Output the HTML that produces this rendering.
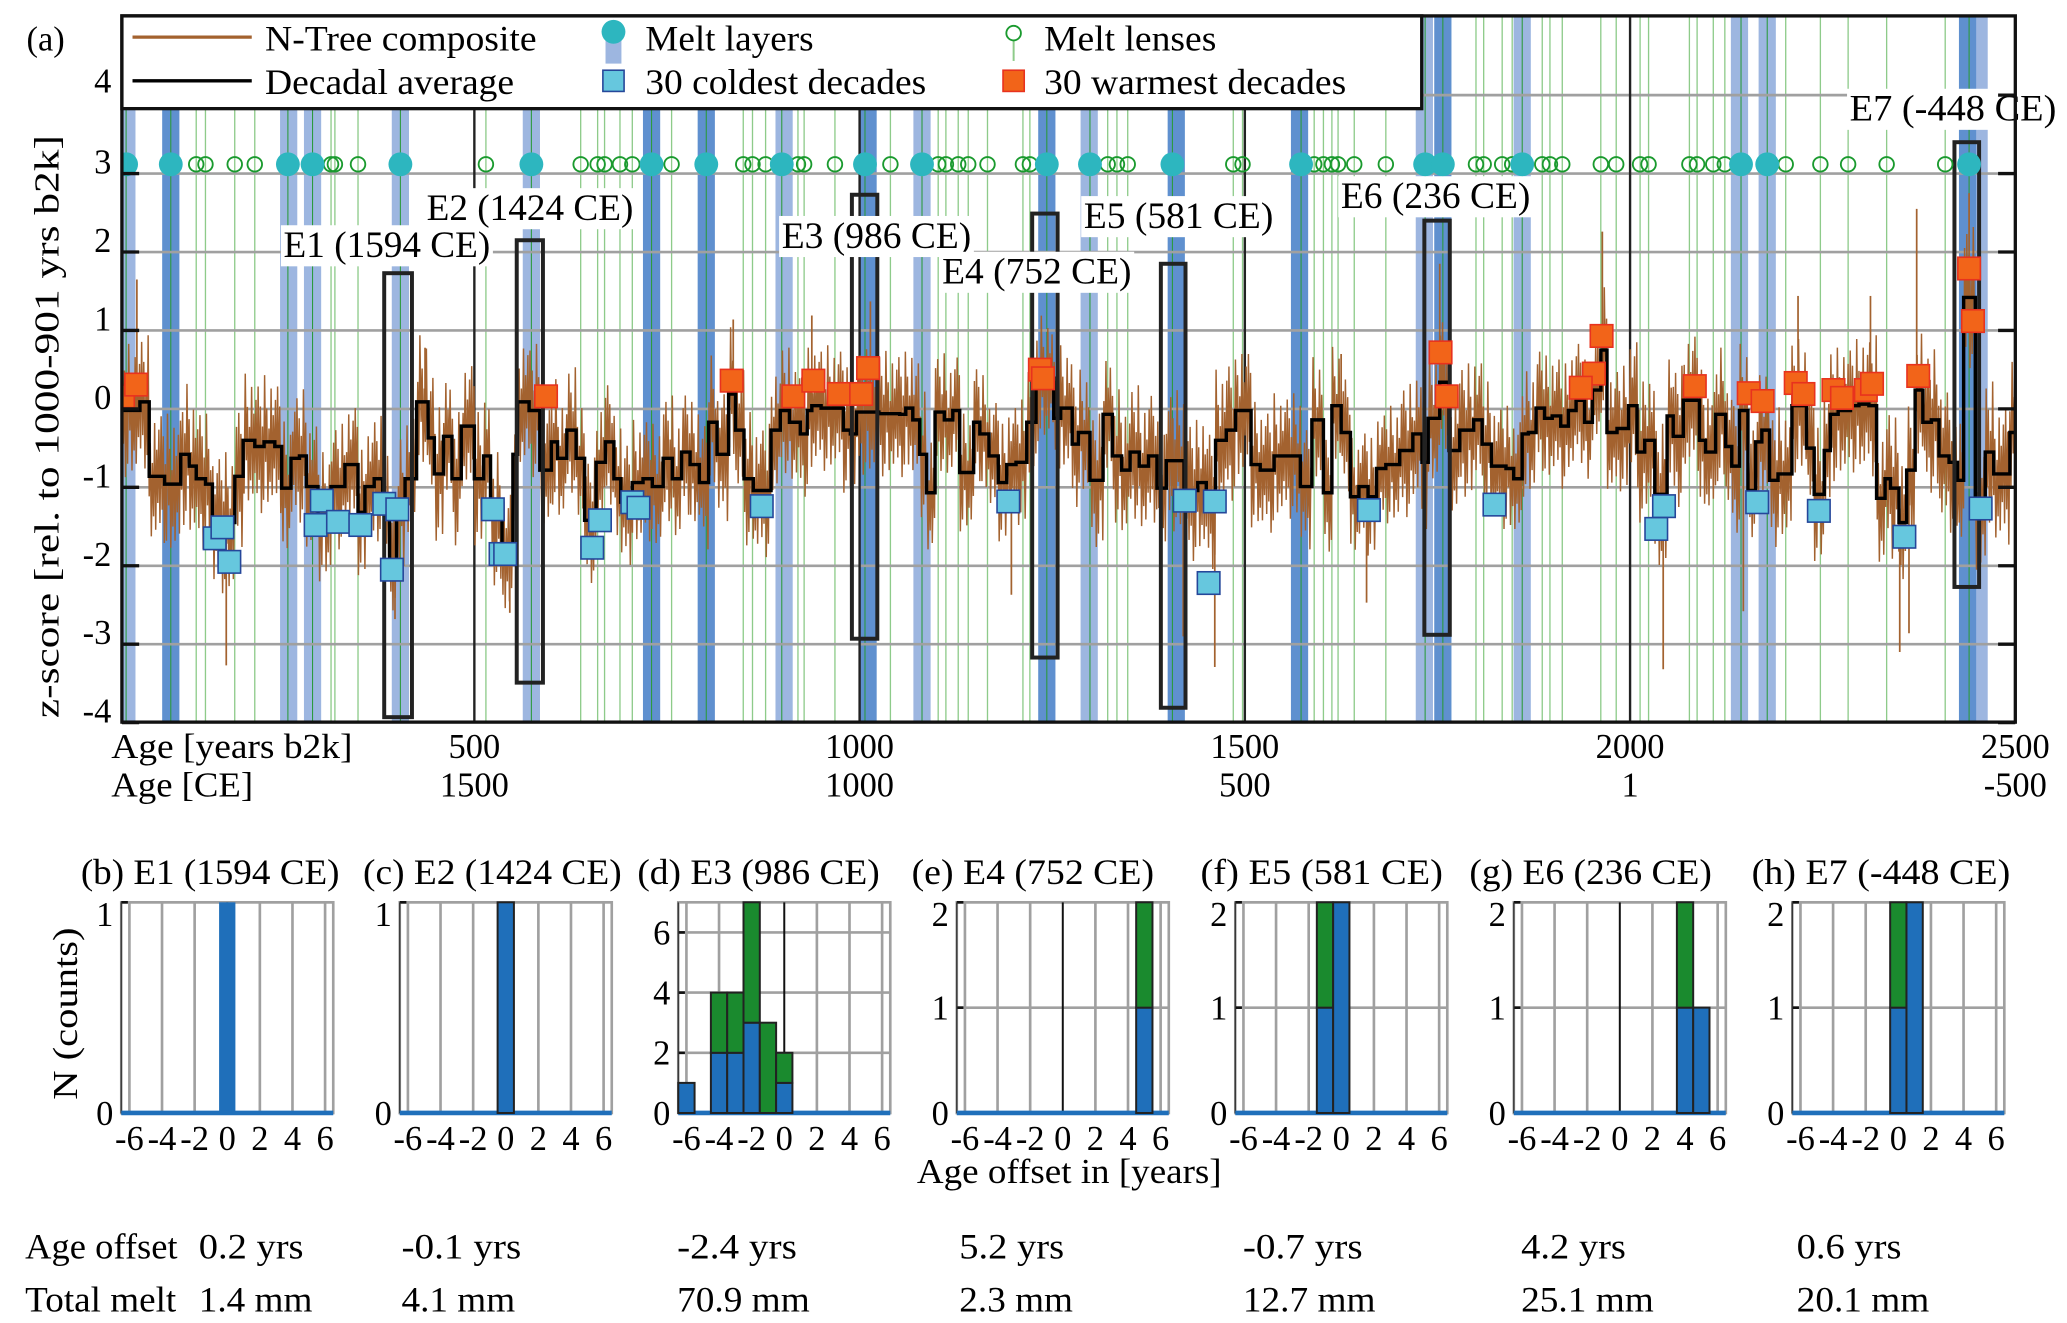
<!DOCTYPE html>
<html><head><meta charset="utf-8"><style>
html,body{margin:0;padding:0;background:#fff;}
svg{display:block;font-family:"Liberation Serif",serif;}
</style></head><body>
<svg id="fig" xmlns="http://www.w3.org/2000/svg" width="2067" height="1323" viewBox="0 0 1560 998.5">
<rect x="0" y="0" width="1560" height="998.5" fill="#fff"/>
<g id="top"></g>
<g id="bottom"></g>
</svg>
<script>
// ---------- Panel (a) data ----------
const yTicks=[-4,-3,-2,-1,0,1,2,3,4];
const xTicksB2k=[500,1000,1500,2000,2500];
const xTicksCE=["1500","1000","500","1","-500"];
const lightBands=[49,259,290,404,574,902,1081,1298,1733,1860,2142,2178,2453];
const darkBands=[106,730,801,1011,1243,1411,1571,1757,2438];
const meltLayers=[48,106,258,290,404,574,730,801,899,1007,1081,1243,1299,1406,1573,1734,1757,1860,2144,2178,2440];
const meltLenses=[139,151,189,215,314,319,349,515,638,660,669,689,705,756,849,861,878,920,928,968,1040,1102,1112,1128,1141,1166,1212,1221,1322,1334,1348,1485,1497,1590,1602,1613,1621,1642,1683,1800,1810,1834,1847,1886,1896,1912,1962,1982,2013,2024,2077,2087,2108,2123,2202,2247,2283,2333,2409];
const coldAge=[163,173,182,294,302,323,352,383,393,400,524,534,540,653,663,705,713,873,1193,1422,1461,1453,1661,1824,2044,2034,2165,2245,2356,2455];
const coldVal=[-1.65,-1.51,-1.95,-1.48,-1.17,-1.44,-1.48,-1.21,-2.05,-1.28,-1.28,-1.85,-1.85,-1.77,-1.42,-1.19,-1.26,-1.24,-1.18,-1.17,-1.18,-2.22,-1.29,-1.22,-1.24,-1.53,-1.19,-1.3,-1.63,-1.27];
const warmAge=[44,61,593,834,914,940,973,1011,1002,1234,1238,1754,1762,1963,1953,1936,2084,2154,2172,2215,2225,2264,2275,2306,2314,2374,2440,2445];
const warmVal=[0.16,0.31,0.16,0.36,0.16,0.36,0.19,0.52,0.19,0.5,0.39,0.72,0.16,0.93,0.45,0.27,0.29,0.2,0.1,0.33,0.19,0.24,0.14,0.24,0.32,0.42,1.79,1.12];
const eventNames=["E1 (1594 CE)","E2 (1424 CE)","E3 (986 CE)","E4 (752 CE)","E5 (581 CE)","E6 (236 CE)","E7 (-448 CE)"];
const eventAgeFrom=[383,555,990,1224,1391,1733,2421];
const eventAgeTo=[419,589,1023,1257,1423,1766,2453];
const eventTop=[1.73,2.15,2.73,2.49,1.85,2.4,3.4];
const eventBottom=[-3.93,-3.49,-2.93,-3.17,-3.81,-2.88,-2.27];
// decadal average step series: [start age b2k, z-score]
const decSteps=[[43,-0.02],[66,0.09],[78,-0.86],[98,-0.96],[119,-0.58],[130,-0.73],[139,-0.89],[151,-0.96],[160,-1.45],[189,-0.86],[200,-0.4],[215,-0.48],[227,-0.42],[241,-0.48],[250,-1.01],[262,-0.63],[273,-0.6],[282,-0.99],[297,-1.35],[314,-0.99],[332,-0.71],[349,-1.32],[358,-0.99],[370,-0.89],[381,-1.24],[390,-2.01],[399,-1.24],[410,-0.89],[425,0.09],[440,-0.37],[448,-0.83],[460,-0.35],[471,-0.89],[483,-0.22],[500,-0.89],[512,-0.6],[521,-1.4],[536,-1.86],[550,-0.58],[556,0.09],[571,-0.02],[585,-0.78],[600,-0.42],[608,-0.63],[620,-0.27],[632,-0.63],[643,-1.42],[658,-0.68],[670,-0.42],[681,-0.89],[690,-1.19],[705,-0.94],[719,-0.89],[731,-0.99],[745,-0.63],[757,-0.89],[769,-0.55],[780,-0.71],[792,-0.94],[804,-0.17],[815,-0.58],[830,0.19],[839,-0.27],[850,-0.89],[862,-1.04],[885,-0.27],[897,-0.02],[909,-0.17],[923,-0.32],[932,-0.02],[938,0.04],[950,0.01],[979,-0.27],[988,-0.32],[996,-0.04],[1025,-0.06],[1052,-0.07],[1060,0.01],[1069,-0.14],[1078,-0.58],[1087,-1.07],[1098,-0.04],[1110,-0.14],[1121,-0.02],[1130,-0.81],[1148,-0.17],[1156,-0.32],[1168,-0.6],[1180,-0.94],[1191,-0.71],[1203,-0.68],[1217,-0.17],[1229,0.39],[1252,-0.12],[1261,0.01],[1276,-0.45],[1284,-0.3],[1299,-0.91],[1316,-0.07],[1328,-0.6],[1340,-0.78],[1351,-0.55],[1363,-0.73],[1375,-0.6],[1386,-1.01],[1398,-0.66],[1421,-1.04],[1439,-0.94],[1450,-1.14],[1462,-0.4],[1476,-0.27],[1488,-0.02],[1508,-0.71],[1520,-0.78],[1538,-0.6],[1572,-0.99],[1587,-0.14],[1602,-1.07],[1613,0.04],[1625,-0.3],[1637,-1.12],[1648,-0.99],[1660,-1.12],[1671,-0.76],[1683,-0.71],[1701,-0.53],[1718,-0.32],[1730,-0.68],[1738,-0.12],[1753,0.34],[1765,-0.53],[1779,-0.27],[1797,-0.14],[1808,-0.45],[1820,-0.73],[1839,-0.76],[1849,-0.89],[1860,-0.32],[1868,-0.3],[1878,0.01],[1889,-0.12],[1899,-0.09],[1910,-0.22],[1920,-0.02],[1930,0.11],[1941,-0.17],[1951,0.24],[1962,0.75],[1970,-0.3],[1983,-0.25],[1998,0.04],[2009,-0.55],[2019,-0.4],[2032,-1.09],[2048,-0.09],[2056,-0.35],[2069,0.11],[2090,-0.4],[2098,-0.55],[2111,-0.07],[2124,-0.48],[2132,-0.73],[2142,-0.02],[2153,-1.04],[2163,-0.42],[2171,-0.27],[2181,-0.91],[2192,-0.83],[2210,0.04],[2229,-0.5],[2239,-1.09],[2252,-0.53],[2260,-0.07],[2270,-0.02],[2286,0.04],[2297,0.06],[2310,0.04],[2320,-1.14],[2331,-0.89],[2338,-1.01],[2349,-1.45],[2359,-0.78],[2370,0.24],[2380,-0.17],[2391,-0.14],[2401,-0.6],[2414,-0.68],[2425,-0.91],[2433,1.42],[2448,-1.24],[2461,-0.55],[2472,-0.83],[2493,-0.3]];
const decEnd=2500;
// N-Tree annual spread per century (0..2500 b2k) and notable extremes
const treeAmp=[0.85,0.9,0.85,0.8,0.85,0.85,0.8,0.8,0.85,0.8,0.8,0.75,0.8,0.85,0.9,0.8,0.75,0.85,0.8,0.8,0.9,0.85,0.85,0.9,0.9];
const spikeAge=[62,178,436,397,836,938,546,1014,1197,1461,1753,1658,1625,1964,2043,2372,2362,2440,2147,2312,2218,1420,2350];
const spikeVal=[1.65,-3.27,0.78,-2.68,1.14,1.19,-2.6,1.37,-2.37,-3.29,1.85,-2.47,0.7,2.26,-3.32,2.55,-2.86,2.75,-2.58,1.44,1.44,-2.9,-3.1];
const wig=[0.9,-0.5,0.6,-1.0,0.3,-0.8,1.0,-0.3,0.5,-0.9,0.2,-0.6,0.8,-0.8,0.4,-0.4,0.7,-0.7];

// ---------- Histogram panels data ----------
const panelTitles=["(b) E1 (1594 CE)","(c) E2 (1424 CE)","(d) E3 (986 CE)","(e) E4 (752 CE)","(f) E5 (581 CE)","(g) E6 (236 CE)","(h) E7 (-448 CE)"];
const panelYMax=[1,1,7,2,2,2,2];
const panelYTicks=[[0,1],[0,1],[0,2,4,6],[0,1,2],[0,1,2],[0,1,2],[0,1,2]];
const binOffsets=[-6,-5,-4,-3,-2,-1,0,1,2,3,4,5,6];
const panelBlue=[
 [0,0,0,0,0,0,1,0,0,0,0,0,0],
 [0,0,0,0,0,0,1,0,0,0,0,0,0],
 [1,0,2,2,3,0,1,0,0,0,0,0,0],
 [0,0,0,0,0,0,0,0,0,0,0,1,0],
 [0,0,0,0,0,1,2,0,0,0,0,0,0],
 [0,0,0,0,0,0,0,0,0,0,1,1,0],
 [0,0,0,0,0,0,1,2,0,0,0,0,0]];
const panelGreen=[
 [0,0,0,0,0,0,0,0,0,0,0,0,0],
 [0,0,0,0,0,0,0,0,0,0,0,0,0],
 [0,0,2,2,4,3,1,0,0,0,0,0,0],
 [0,0,0,0,0,0,0,0,0,0,0,1,0],
 [0,0,0,0,0,1,0,0,0,0,0,0,0],
 [0,0,0,0,0,0,0,0,0,0,1,0,0],
 [0,0,0,0,0,0,1,0,0,0,0,0,0]];
const ageOffsetText=["0.2 yrs","-0.1 yrs","-2.4 yrs","5.2 yrs","-0.7 yrs","4.2 yrs","0.6 yrs"];
const totalMeltText=["1.4 mm","4.1 mm","70.9 mm","2.3 mm","12.7 mm","25.1 mm","20.1 mm"];

// ---------- helpers ----------
const NS="http://www.w3.org/2000/svg";
function mk(parent,tag,attrs,text){const e=document.createElementNS(NS,tag);for(const k in attrs)e.setAttribute(k,attrs[k]);if(text!==undefined)e.textContent=text;parent.appendChild(e);return e;}
const PL=92,PR=1521,PT=12,PB=545;
function X(a){return 358+(a-500)*0.5815;}
function Y(v){return 308.6-59.2*v;}
const topG=document.getElementById('top');
const clip=mk(topG,'clipPath',{id:'pc'});mk(clip,'rect',{x:PL,y:PT,width:PR-PL,height:PB-PT});
const plot=mk(topG,'g',{'clip-path':'url(#pc)'});



lightBands.forEach(a=>{const r=mk(plot,'rect',{x:X(a)-6.5,y:PT,width:13,height:PB-PT,fill:'#9db6e0'});

});
darkBands.forEach(a=>{const r=mk(plot,'rect',{x:X(a)-6.5,y:PT,width:13,height:PB-PT,fill:'#5f90cf'});

});
meltLenses.forEach(a=>{const l=mk(plot,'line',{x1:X(a),x2:X(a),y1:PT,y2:PB,stroke:'#8ecb8a','stroke-width':1});

});
meltLayers.forEach(a=>{const l=mk(plot,'line',{x1:X(a),x2:X(a),y1:PT,y2:PB,stroke:'#2a9a3a','stroke-width':0.8});

});
yTicks.forEach(v=>{if(v===-4)return;const g=mk(plot,'line',{x1:PL,x2:PR,y1:Y(v),y2:Y(v),stroke:'#a0a0a0','stroke-width':2});

});
xTicksB2k.slice(0,4).forEach(a=>{const l=mk(plot,'line',{x1:X(a),x2:X(a),y1:PT,y2:PB,stroke:'#222','stroke-width':1.8});

});
function decAt(a){let i=0;while(i+1<decSteps.length&&decSteps[i+1][0]<=a)i++;return decSteps[i][1];}
let d='',k=0;
for(let a=43;a<=decEnd;a+=1.4,k++){const amp=treeAmp[Math.min(24,Math.floor(a/100))];const v=decAt(a)+amp*wig[k%wig.length];d+=(k?'L':'M')+X(a).toFixed(1)+' '+Y(v).toFixed(1);}
const tree=mk(plot,'path',{d:d,fill:'none',stroke:'#a3622f','stroke-width':1.1});


spikeAge.forEach((a,i)=>{const s=mk(plot,'line',{x1:X(a),x2:X(a),y1:Y(decAt(a)),y2:Y(spikeVal[i]),stroke:'#a3622f','stroke-width':1.3});

});
let dd='M'+X(decSteps[0][0])+' '+Y(decSteps[0][1]);
for(let i=0;i<decSteps.length;i++){const nx=i+1<decSteps.length?decSteps[i+1][0]:decEnd;dd+=' H'+X(nx).toFixed(1);if(i+1<decSteps.length)dd+=' V'+Y(decSteps[i+1][1]).toFixed(1);}
const dec=mk(plot,'path',{d:dd,fill:'none',stroke:'#000','stroke-width':2.6});


eventNames.forEach((n,i)=>{const x1=X(eventAgeFrom[i]),x2=X(eventAgeTo[i]);const r=mk(plot,'rect',{x:x1,y:Y(eventTop[i]),width:x2-x1,height:Y(eventBottom[i])-Y(eventTop[i]),fill:'none',stroke:'#222','stroke-width':3});

});
coldAge.forEach((a,i)=>{const s=mk(plot,'rect',{x:X(a)-8.5,y:Y(coldVal[i])-8.5,width:17,height:17,fill:'#66c7de',stroke:'#25479a','stroke-width':1.2});

});
warmAge.forEach((a,i)=>{const s=mk(plot,'rect',{x:X(a)-8.5,y:Y(warmVal[i])-8.5,width:17,height:17,fill:'#f26419',stroke:'#e8321e','stroke-width':1.2});

});
meltLenses.forEach(a=>{const c=mk(plot,'circle',{cx:X(a),cy:124,r:5.5,fill:'none',stroke:'#1a9a2e','stroke-width':1.4});

});
meltLayers.forEach(a=>{const c=mk(plot,'circle',{cx:X(a),cy:124,r:9,fill:'#2db6bf'});

});
const lblX=[214,322,590,711,818,1012,1396],lblY=[194,166,187,214,172,157,91];
eventNames.forEach((n,i)=>{const w=n.length*13;mk(topG,'rect',{x:lblX[i]-2,y:lblY[i]-24,width:w+4,height:31,fill:'#fff'});
const t=mk(topG,'text',{x:lblX[i],y:lblY[i],'font-size':28,textLength:w,lengthAdjust:'spacingAndGlyphs'},n);

});
mk(topG,'rect',{x:PL,y:PT,width:PR-PL,height:PB-PT,fill:'none',stroke:'#111','stroke-width':2.5});
yTicks.forEach(v=>{mk(topG,'line',{x1:PL,x2:PL+13,y1:Y(v),y2:Y(v),stroke:'#111','stroke-width':2.5});mk(topG,'line',{x1:PR-13,x2:PR,y1:Y(v),y2:Y(v),stroke:'#111','stroke-width':2.5});
const t=mk(topG,'text',{x:84,y:Y(v)+(v===4?-2:0),'font-size':26,'text-anchor':'end'},String(v));

});
xTicksB2k.forEach((a,i)=>{const t=mk(topG,'text',{x:X(a),y:572,'font-size':26,'text-anchor':'middle'},String(a));


const t2=mk(topG,'text',{x:X(a),y:601,'font-size':26,'text-anchor':'middle'},xTicksCE[i]);

});
</script>
<script>
(function(){
const t=document.getElementById('top');
t.insertAdjacentHTML('beforeend',`
<text x="84" y="572" font-size="26" textLength="182" lengthAdjust="spacingAndGlyphs">Age [years b2k]</text>
<text x="84" y="601" font-size="26" textLength="107" lengthAdjust="spacingAndGlyphs">Age [CE]</text>
<text x="20" y="38" font-size="26">(a)</text>
<text transform="translate(44,322) rotate(-90)" font-size="26" text-anchor="middle" textLength="440" lengthAdjust="spacingAndGlyphs">z-score  [rel. to 1000-901 yrs b2k]</text>
<g>
<rect x="92" y="12" width="981" height="70" fill="#fff" stroke="#111" stroke-width="2.5"/>
<line x1="100" x2="190" y1="28" y2="28" stroke="#a3622f" stroke-width="2.5"/>
<text x="200" y="38" font-size="27" textLength="205" lengthAdjust="spacingAndGlyphs">N-Tree composite</text>
<line x1="100" x2="190" y1="61" y2="61" stroke="#000" stroke-width="2.5"/>
<text x="200" y="71" font-size="27" textLength="188" lengthAdjust="spacingAndGlyphs">Decadal average</text>
<rect x="457" y="26" width="12" height="22" fill="#9db6e0"/>
<circle cx="463" cy="24" r="9" fill="#2db6bf"/>
<text x="487" y="38" font-size="27" textLength="127" lengthAdjust="spacingAndGlyphs">Melt layers</text>
<rect x="455" y="53" width="16" height="16" fill="#66c7de" stroke="#25479a" stroke-width="1.2"/>
<text x="487" y="71" font-size="27" textLength="212" lengthAdjust="spacingAndGlyphs">30 coldest decades</text>
<line x1="765" x2="765" y1="30" y2="46" stroke="#8ecb8a" stroke-width="1.5"/>
<circle cx="765" cy="25" r="5.5" fill="none" stroke="#1a9a2e" stroke-width="1.4"/>
<text x="788" y="38" font-size="27" textLength="130" lengthAdjust="spacingAndGlyphs">Melt lenses</text>
<rect x="757" y="53" width="16" height="16" fill="#f26419" stroke="#e8321e" stroke-width="1.2"/>
<text x="788" y="71" font-size="27" textLength="228" lengthAdjust="spacingAndGlyphs">30 warmest decades</text>
</g>`);
})();
(function(){
const b=document.getElementById('bottom');
const W=160,T=681,B=840;
const titleX=[61,274,481,688,906,1109,1322];
const valX=[150,303,511,724,938,1148,1356];
panelTitles.forEach((title,p)=>{
 const L=91.5+p*210.2;
 const g=mk(b,'g',{});
 
 
 const ox=o=>L+(o+6.5)*W/13;
 const cy=c=>B-c/panelYMax[p]*(B-T);
 mk(g,'rect',{x:L,y:T,width:W,height:B-T,fill:'#fff',stroke:'#a0a0a0','stroke-width':2});
 [-6,-4,-2,2,4,6].forEach(o=>mk(g,'line',{x1:ox(o),x2:ox(o),y1:T,y2:B,stroke:'#a0a0a0','stroke-width':2}));
 panelYTicks[p].forEach(v=>{mk(g,'line',{x1:L,x2:L+W,y1:cy(v),y2:cy(v),stroke:'#a0a0a0','stroke-width':2});
  mk(g,'line',{x1:L,x2:L+5,y1:cy(v),y2:cy(v),stroke:'#111','stroke-width':2});
  const t=mk(g,'text',{x:L-6,y:Math.max(cy(v)+9,T+18),'font-size':26,'text-anchor':'end'},String(v));
  
  });
 mk(g,'line',{x1:ox(0),x2:ox(0),y1:T,y2:B,stroke:'#111','stroke-width':1.5});
 mk(g,'line',{x1:L,x2:L,y1:T,y2:B,stroke:'#333','stroke-width':1});
 mk(g,'line',{x1:L,x2:L+W,y1:B,y2:B,stroke:'#1f6fba','stroke-width':3.5});
 binOffsets.forEach((o,i)=>{
  const bl=panelBlue[p][i],gr=panelGreen[p][i];if(bl+gr===0)return;
  const x=ox(o-0.5),w=W/13;const ol=p===0?'none':'#222';
  if(bl>0){const r=mk(g,'rect',{x:x,y:cy(bl),width:w,height:B-cy(bl),fill:'#1f6fba',stroke:ol,'stroke-width':1.5});
   
   }
  if(gr>0){const r=mk(g,'rect',{x:x,y:cy(bl+gr),width:w,height:cy(bl)-cy(bl+gr),fill:'#1a8a2e',stroke:ol,'stroke-width':1.5});
   
   }
 });
 [-6,-4,-2,0,2,4,6].forEach(o=>{const t=mk(g,'text',{x:ox(o),y:868,'font-size':26,'text-anchor':'middle'},String(o));
  
  });
 const tt=mk(b,'text',{x:titleX[p],y:667,'font-size':27,textLength:title.length*12.2,lengthAdjust:'spacingAndGlyphs'},title);
 
 
 const a1=mk(b,'text',{x:valX[p],y:950,'font-size':27,textLength:ageOffsetText[p].length*11.3,lengthAdjust:'spacingAndGlyphs'},ageOffsetText[p]);
 
 
 const a2=mk(b,'text',{x:valX[p],y:990,'font-size':27,textLength:totalMeltText[p].length*14.3,lengthAdjust:'spacingAndGlyphs'},totalMeltText[p]);
 
 
});
b.insertAdjacentHTML('beforeend',`
<text transform="translate(58,765) rotate(-90)" font-size="26" text-anchor="middle" textLength="130" lengthAdjust="spacingAndGlyphs">N (counts)</text>
<text x="692" y="893" font-size="26" textLength="230" lengthAdjust="spacingAndGlyphs">Age offset in [years]</text>
<text x="19" y="950" font-size="27" textLength="115" lengthAdjust="spacingAndGlyphs">Age offset</text>
<text x="19" y="990" font-size="27" textLength="114" lengthAdjust="spacingAndGlyphs">Total melt</text>`);
})();
</script>
</body></html>
